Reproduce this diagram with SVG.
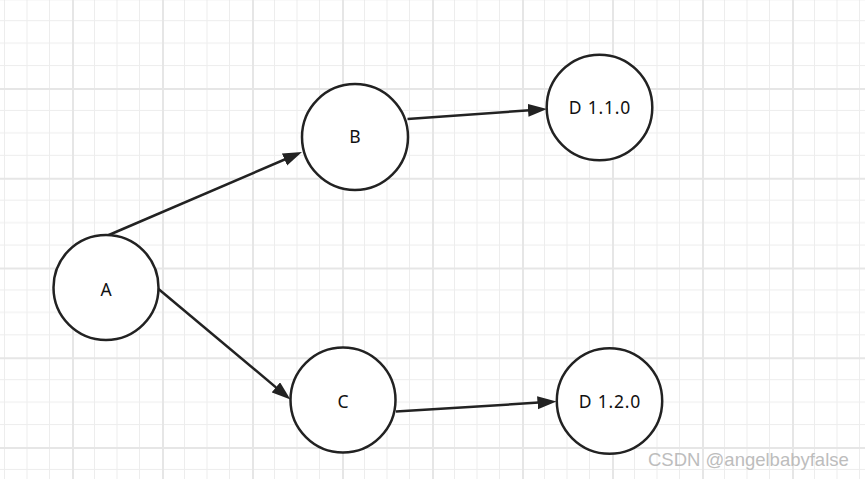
<svg xmlns="http://www.w3.org/2000/svg" width="865" height="479" viewBox="0 0 865 479">
  <style>
    .node circle { fill: #ffffff; stroke: #222222; stroke-width: 2.5; }
    .node text { font-family: "Noto Sans", "Liberation Sans", sans-serif; font-size: 17.5px; fill: #111111; text-anchor: middle; }
    .edge { stroke: #222222; stroke-width: 2.5; fill: none; marker-end: url(#arrow); }
    .minor { stroke: #ededed; stroke-width: 1; }
    .major { fill: #e6e6e6; }
    .wm { font-family: "Liberation Sans", Arial, sans-serif; font-size: 18.5px; fill: #bdbdbd; }
  </style>
  <defs>
    <pattern id="grid" patternUnits="userSpaceOnUse" x="72" y="88" width="90" height="89.75">
      <line class="minor" x1="22.5" y1="0" x2="22.5" y2="89.75"/>
      <line class="minor" x1="45" y1="0" x2="45" y2="89.75"/>
      <line class="minor" x1="67.5" y1="0" x2="67.5" y2="89.75"/>
      <line class="minor" x1="0" y1="22.4" x2="90" y2="22.4"/>
      <line class="minor" x1="0" y1="44.9" x2="90" y2="44.9"/>
      <line class="minor" x1="0" y1="67.3" x2="90" y2="67.3"/>
      <rect class="major" x="0" y="0" width="2" height="89.75"/>
      <rect class="major" x="0" y="0" width="90" height="2"/>
    </pattern>
    <marker id="arrow" markerUnits="userSpaceOnUse" markerWidth="20" markerHeight="14" refX="9" refY="6.5" orient="auto">
      <path d="M0,0 L19,6.5 L0,13 Z" fill="#222222"/>
    </marker>
  </defs>
  <rect width="865" height="479" fill="#ffffff"/>
  <rect width="865" height="479" fill="url(#grid)"/>

  <g id="connectors">
    <line class="edge" x1="106.5" y1="236" x2="292.8" y2="156"/>
    <line class="edge" x1="407.5" y1="119" x2="537" y2="109.7"/>
    <line class="edge" x1="158.5" y1="289" x2="282.8" y2="393.1"/>
    <line class="edge" x1="396" y1="411.5" x2="546.5" y2="402.1"/>
  </g>

  <g id="node-A" class="node">
    <circle cx="106" cy="287.5" r="52.5"/>
    <text x="106" y="296">A</text>
  </g>
  <g id="node-B" class="node">
    <circle cx="355" cy="137" r="53"/>
    <text x="355" y="143">B</text>
  </g>
  <g id="node-D110" class="node">
    <circle cx="599.5" cy="107.5" r="52.8"/>
    <text x="600" y="114" letter-spacing="0.8">D 1.1.0</text>
  </g>
  <g id="node-C" class="node">
    <circle cx="343" cy="400" r="52.5"/>
    <text x="343" y="408">C</text>
  </g>
  <g id="node-D120" class="node">
    <circle cx="609.5" cy="401" r="52.7"/>
    <text x="610" y="408" letter-spacing="0.8">D 1.2.0</text>
  </g>

  <text class="wm" x="648" y="466">CSDN @angelbabyfalse</text>
</svg>
